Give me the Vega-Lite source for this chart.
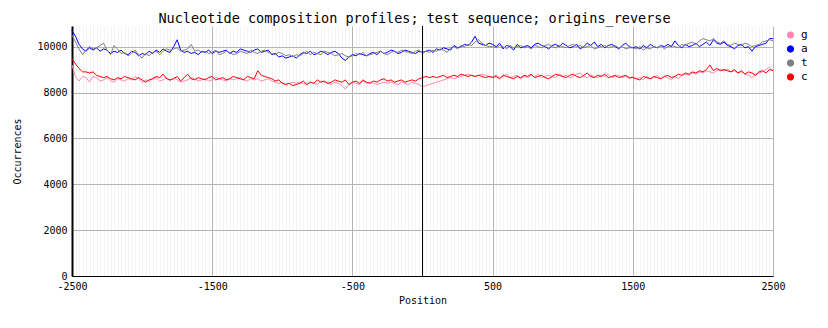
{
"$schema":"https://vega.github.io/schema/vega-lite/v6.json",
"width":701,"height":250,"autosize":"none",
"padding":{"left":72,"top":26,"right":55,"bottom":52},
"background":"white",
"config":{"font":"DejaVu Sans Mono","view":{"stroke":null}},
"title":{"text":"Nucleotide composition profiles; test sequence; origins_reverse","font":"DejaVu Sans Mono","fontSize":13.5,"fontWeight":"normal","color":"black","offset":0,"dx":-8},
"data":{"values":[
{"x":-2500,"g":9200,"a":10700,"t":10500,"c":9450},
{"x":-2475,"g":8700,"a":10450,"t":10200,"c":9250},
{"x":-2450,"g":8500,"a":10100,"t":9900,"c":9050},
{"x":-2425,"g":8700,"a":9900,"t":9650,"c":8900},
{"x":-2400,"g":8650,"a":9800,"t":9850,"c":8900},
{"x":-2375,"g":8450,"a":9950,"t":10000,"c":8850},
{"x":-2350,"g":8700,"a":9850,"t":9900,"c":8900},
{"x":-2325,"g":8650,"a":9950,"t":9950,"c":8750},
{"x":-2300,"g":8500,"a":9800,"t":10050,"c":8700},
{"x":-2275,"g":8550,"a":9900,"t":10150,"c":8650},
{"x":-2250,"g":8650,"a":9850,"t":9850,"c":8700},
{"x":-2225,"g":8500,"a":9700,"t":9650,"c":8600},
{"x":-2200,"g":8450,"a":9800,"t":10050,"c":8550},
{"x":-2175,"g":8600,"a":9750,"t":9900,"c":8650},
{"x":-2150,"g":8550,"a":9850,"t":9700,"c":8600},
{"x":-2125,"g":8500,"a":9700,"t":9750,"c":8700},
{"x":-2100,"g":8600,"a":9650,"t":9600,"c":8650},
{"x":-2075,"g":8550,"a":9800,"t":9700,"c":8600},
{"x":-2050,"g":8700,"a":9750,"t":9850,"c":8550},
{"x":-2025,"g":8600,"a":9600,"t":9650,"c":8650},
{"x":-2000,"g":8450,"a":9700,"t":9500,"c":8550},
{"x":-1975,"g":8550,"a":9650,"t":9700,"c":8450},
{"x":-1950,"g":8500,"a":9800,"t":9600,"c":8550},
{"x":-1925,"g":8600,"a":9700,"t":9750,"c":8600},
{"x":-1900,"g":8650,"a":9850,"t":9800,"c":8700},
{"x":-1875,"g":8500,"a":9750,"t":9650,"c":8650},
{"x":-1850,"g":8550,"a":9900,"t":9800,"c":8800},
{"x":-1825,"g":8650,"a":9800,"t":9900,"c":8600},
{"x":-1800,"g":8500,"a":9750,"t":9850,"c":8550},
{"x":-1775,"g":8650,"a":10000,"t":9900,"c":8600},
{"x":-1750,"g":8550,"a":10300,"t":9950,"c":8700},
{"x":-1725,"g":8450,"a":9850,"t":9800,"c":8500},
{"x":-1700,"g":8500,"a":9750,"t":9850,"c":8650},
{"x":-1675,"g":8550,"a":9800,"t":9900,"c":8800},
{"x":-1650,"g":8650,"a":9700,"t":10100,"c":8600},
{"x":-1625,"g":8600,"a":9750,"t":9800,"c":8550},
{"x":-1600,"g":8500,"a":9650,"t":9850,"c":8650},
{"x":-1575,"g":8550,"a":9800,"t":9750,"c":8600},
{"x":-1550,"g":8600,"a":9750,"t":9800,"c":8550},
{"x":-1525,"g":8500,"a":9850,"t":9700,"c":8650},
{"x":-1500,"g":8550,"a":9700,"t":9750,"c":8700},
{"x":-1475,"g":8650,"a":9800,"t":9850,"c":8550},
{"x":-1450,"g":8600,"a":9750,"t":9650,"c":8600},
{"x":-1425,"g":8550,"a":9800,"t":9700,"c":8650},
{"x":-1400,"g":8500,"a":9850,"t":9800,"c":8550},
{"x":-1375,"g":8600,"a":9700,"t":9750,"c":8600},
{"x":-1350,"g":8550,"a":9800,"t":9650,"c":8700},
{"x":-1325,"g":8600,"a":9750,"t":9700,"c":8650},
{"x":-1300,"g":8650,"a":9900,"t":9800,"c":8600},
{"x":-1275,"g":8550,"a":9850,"t":9750,"c":8550},
{"x":-1250,"g":8500,"a":9800,"t":9700,"c":8700},
{"x":-1225,"g":8600,"a":9750,"t":9850,"c":8650},
{"x":-1200,"g":8550,"a":9850,"t":9750,"c":8600},
{"x":-1175,"g":8600,"a":9900,"t":9700,"c":8950},
{"x":-1150,"g":8500,"a":9750,"t":9800,"c":8750},
{"x":-1125,"g":8550,"a":9800,"t":9850,"c":8700},
{"x":-1100,"g":8600,"a":9850,"t":9750,"c":8650},
{"x":-1075,"g":8500,"a":9650,"t":9700,"c":8600},
{"x":-1050,"g":8450,"a":9700,"t":9650,"c":8500},
{"x":-1025,"g":8400,"a":9550,"t":9750,"c":8550},
{"x":-1000,"g":8450,"a":9600,"t":9700,"c":8400},
{"x":-975,"g":8350,"a":9500,"t":9600,"c":8350},
{"x":-950,"g":8400,"a":9550,"t":9650,"c":8400},
{"x":-925,"g":8450,"a":9600,"t":9550,"c":8300},
{"x":-900,"g":8400,"a":9500,"t":9650,"c":8350},
{"x":-875,"g":8450,"a":9650,"t":9600,"c":8400},
{"x":-850,"g":8400,"a":9750,"t":9700,"c":8500},
{"x":-825,"g":8350,"a":9700,"t":9800,"c":8350},
{"x":-800,"g":8450,"a":9800,"t":9650,"c":8450},
{"x":-775,"g":8400,"a":9650,"t":9750,"c":8400},
{"x":-750,"g":8350,"a":9700,"t":9700,"c":8550},
{"x":-725,"g":8500,"a":9800,"t":9650,"c":8450},
{"x":-700,"g":8450,"a":9750,"t":9800,"c":8500},
{"x":-675,"g":8400,"a":9650,"t":9750,"c":8400},
{"x":-650,"g":8350,"a":9750,"t":9700,"c":8450},
{"x":-625,"g":8450,"a":9800,"t":9600,"c":8550},
{"x":-600,"g":8400,"a":9700,"t":9650,"c":8500},
{"x":-575,"g":8300,"a":9500,"t":9700,"c":8450},
{"x":-550,"g":8150,"a":9400,"t":9600,"c":8550},
{"x":-525,"g":8350,"a":9550,"t":9550,"c":8350},
{"x":-500,"g":8450,"a":9650,"t":9600,"c":8450},
{"x":-475,"g":8400,"a":9600,"t":9700,"c":8500},
{"x":-450,"g":8350,"a":9700,"t":9650,"c":8400},
{"x":-425,"g":8500,"a":9650,"t":9750,"c":8550},
{"x":-400,"g":8400,"a":9600,"t":9600,"c":8450},
{"x":-375,"g":8450,"a":9700,"t":9650,"c":8400},
{"x":-350,"g":8400,"a":9750,"t":9700,"c":8500},
{"x":-325,"g":8350,"a":9650,"t":9750,"c":8450},
{"x":-300,"g":8400,"a":9800,"t":9800,"c":8550},
{"x":-275,"g":8450,"a":9700,"t":9700,"c":8600},
{"x":-250,"g":8400,"a":9750,"t":9650,"c":8500},
{"x":-225,"g":8450,"a":9850,"t":9750,"c":8550},
{"x":-200,"g":8400,"a":9800,"t":9800,"c":8450},
{"x":-175,"g":8350,"a":9700,"t":9750,"c":8500},
{"x":-150,"g":8450,"a":9750,"t":9850,"c":8550},
{"x":-125,"g":8400,"a":9850,"t":9800,"c":8450},
{"x":-100,"g":8350,"a":9800,"t":9750,"c":8500},
{"x":-75,"g":8450,"a":9750,"t":9700,"c":8550},
{"x":-50,"g":8400,"a":9700,"t":9800,"c":8500},
{"x":-25,"g":8350,"a":9800,"t":9850,"c":8600},
{"x":0,"g":8250,"a":9750,"t":9700,"c":8650},
{"x":25,"g":8300,"a":9800,"t":9800,"c":8700},
{"x":50,"g":8350,"a":9850,"t":9750,"c":8650},
{"x":75,"g":8400,"a":9750,"t":9850,"c":8700},
{"x":100,"g":8450,"a":9900,"t":9800,"c":8650},
{"x":125,"g":8500,"a":9850,"t":9900,"c":8700},
{"x":150,"g":8550,"a":9950,"t":9850,"c":8750},
{"x":175,"g":8600,"a":9900,"t":9750,"c":8650},
{"x":200,"g":8650,"a":9850,"t":9950,"c":8700},
{"x":225,"g":8600,"a":10050,"t":10000,"c":8750},
{"x":250,"g":8650,"a":9950,"t":9900,"c":8700},
{"x":275,"g":8700,"a":10000,"t":10050,"c":8800},
{"x":300,"g":8750,"a":10100,"t":10000,"c":8750},
{"x":325,"g":8800,"a":10050,"t":10100,"c":8700},
{"x":350,"g":8750,"a":10200,"t":10050,"c":8750},
{"x":375,"g":8700,"a":10450,"t":10200,"c":8700},
{"x":400,"g":8750,"a":10150,"t":10300,"c":8750},
{"x":425,"g":8800,"a":10100,"t":10150,"c":8700},
{"x":450,"g":8750,"a":10050,"t":10050,"c":8650},
{"x":475,"g":8700,"a":10150,"t":10000,"c":8700},
{"x":500,"g":8700,"a":10100,"t":10000,"c":8650},
{"x":525,"g":8750,"a":10000,"t":9950,"c":8700},
{"x":550,"g":8650,"a":10150,"t":10050,"c":8600},
{"x":575,"g":8700,"a":9900,"t":10000,"c":8750},
{"x":600,"g":8800,"a":10050,"t":9900,"c":8700},
{"x":625,"g":8650,"a":10000,"t":10050,"c":8650},
{"x":650,"g":8700,"a":9850,"t":9950,"c":8600},
{"x":675,"g":8750,"a":10100,"t":10000,"c":8700},
{"x":700,"g":8600,"a":9950,"t":10050,"c":8650},
{"x":725,"g":8700,"a":10000,"t":9950,"c":8750},
{"x":750,"g":8650,"a":10050,"t":10000,"c":8700},
{"x":775,"g":8750,"a":9950,"t":9900,"c":8800},
{"x":800,"g":8700,"a":10100,"t":10050,"c":8650},
{"x":825,"g":8800,"a":10150,"t":10000,"c":8700},
{"x":850,"g":8650,"a":10050,"t":9950,"c":8750},
{"x":875,"g":8700,"a":10000,"t":10050,"c":8650},
{"x":900,"g":8750,"a":9900,"t":10100,"c":8600},
{"x":925,"g":8700,"a":10050,"t":10000,"c":8700},
{"x":950,"g":8650,"a":10100,"t":9950,"c":8800},
{"x":975,"g":8800,"a":10000,"t":10050,"c":8750},
{"x":1000,"g":8700,"a":10150,"t":10000,"c":8700},
{"x":1025,"g":8750,"a":10050,"t":9950,"c":8650},
{"x":1050,"g":8650,"a":9950,"t":10050,"c":8750},
{"x":1075,"g":8700,"a":10000,"t":10100,"c":8800},
{"x":1100,"g":8800,"a":10100,"t":10000,"c":8700},
{"x":1125,"g":8850,"a":9900,"t":10050,"c":8650},
{"x":1150,"g":8700,"a":10000,"t":9950,"c":8750},
{"x":1175,"g":8650,"a":10150,"t":10000,"c":8850},
{"x":1200,"g":8750,"a":10050,"t":10050,"c":8700},
{"x":1225,"g":8700,"a":10200,"t":9900,"c":8650},
{"x":1250,"g":8650,"a":10000,"t":9950,"c":8750},
{"x":1275,"g":8750,"a":10100,"t":10000,"c":8700},
{"x":1300,"g":8700,"a":9950,"t":10050,"c":8800},
{"x":1325,"g":8800,"a":10050,"t":9950,"c":8650},
{"x":1350,"g":8650,"a":10100,"t":10000,"c":8700},
{"x":1375,"g":8700,"a":10000,"t":10050,"c":8750},
{"x":1400,"g":8750,"a":9900,"t":9950,"c":8650},
{"x":1425,"g":8650,"a":10050,"t":10000,"c":8700},
{"x":1450,"g":8700,"a":10150,"t":9900,"c":8750},
{"x":1475,"g":8600,"a":10000,"t":9950,"c":8650},
{"x":1500,"g":8700,"a":9950,"t":9950,"c":8650},
{"x":1525,"g":8600,"a":10000,"t":9900,"c":8600},
{"x":1550,"g":8650,"a":9900,"t":10000,"c":8550},
{"x":1575,"g":8550,"a":10050,"t":9850,"c":8700},
{"x":1600,"g":8700,"a":9950,"t":9950,"c":8650},
{"x":1625,"g":8600,"a":10100,"t":9900,"c":8600},
{"x":1650,"g":8650,"a":10000,"t":10000,"c":8700},
{"x":1675,"g":8750,"a":9950,"t":9950,"c":8650},
{"x":1700,"g":8600,"a":10050,"t":10050,"c":8600},
{"x":1725,"g":8700,"a":10000,"t":9900,"c":8700},
{"x":1750,"g":8650,"a":10100,"t":10000,"c":8750},
{"x":1775,"g":8550,"a":10000,"t":10050,"c":8650},
{"x":1800,"g":8700,"a":10250,"t":10000,"c":8700},
{"x":1825,"g":8600,"a":10050,"t":9950,"c":8800},
{"x":1850,"g":8750,"a":9950,"t":10100,"c":8750},
{"x":1875,"g":8800,"a":10100,"t":10050,"c":8850},
{"x":1900,"g":8750,"a":10000,"t":10150,"c":8800},
{"x":1925,"g":8850,"a":10050,"t":10200,"c":8900},
{"x":1950,"g":8800,"a":10150,"t":10100,"c":8850},
{"x":1975,"g":8900,"a":10000,"t":10250,"c":8950},
{"x":2000,"g":8850,"a":10100,"t":10350,"c":8900},
{"x":2025,"g":8950,"a":10200,"t":10300,"c":9000},
{"x":2050,"g":8900,"a":10050,"t":10250,"c":9200},
{"x":2075,"g":8850,"a":10300,"t":10350,"c":8950},
{"x":2100,"g":8950,"a":10150,"t":10200,"c":9050},
{"x":2125,"g":9000,"a":10100,"t":10150,"c":8950},
{"x":2150,"g":8950,"a":10200,"t":10250,"c":9000},
{"x":2175,"g":9000,"a":10050,"t":10100,"c":8950},
{"x":2200,"g":8900,"a":10000,"t":10050,"c":8900},
{"x":2225,"g":8950,"a":9900,"t":10150,"c":9000},
{"x":2250,"g":8850,"a":10050,"t":10100,"c":8850},
{"x":2275,"g":8900,"a":10100,"t":10050,"c":8950},
{"x":2300,"g":8800,"a":9950,"t":10150,"c":8800},
{"x":2325,"g":8750,"a":10000,"t":10100,"c":8900},
{"x":2350,"g":8650,"a":9800,"t":10000,"c":8850},
{"x":2375,"g":8800,"a":10000,"t":10050,"c":8750},
{"x":2400,"g":8850,"a":10050,"t":10100,"c":8900},
{"x":2425,"g":8900,"a":10100,"t":10200,"c":8950},
{"x":2450,"g":9000,"a":10150,"t":10250,"c":8850},
{"x":2475,"g":9100,"a":10350,"t":10300,"c":9000},
{"x":2500,"g":8950,"a":10350,"t":10250,"c":8950}
]},
"layer":[
{"transform":[{"fold":["g","a","t","c"],"as":["series","value"]}],
 "mark":{"type":"line","strokeWidth":1},
 "encoding":{
  "x":{"field":"x","type":"quantitative","scale":{"domain":[-2500,2500],"nice":false,"zero":false},
   "axis":{"values":[-2500,-2475,-2450,-2425,-2400,-2375,-2350,-2325,-2300,-2275,-2250,-2225,-2200,-2175,-2150,-2125,-2100,-2075,-2050,-2025,-2000,-1975,-1950,-1925,-1900,-1875,-1850,-1825,-1800,-1775,-1750,-1725,-1700,-1675,-1650,-1625,-1600,-1575,-1550,-1525,-1500,-1475,-1450,-1425,-1400,-1375,-1350,-1325,-1300,-1275,-1250,-1225,-1200,-1175,-1150,-1125,-1100,-1075,-1050,-1025,-1000,-975,-950,-925,-900,-875,-850,-825,-800,-775,-750,-725,-700,-675,-650,-625,-600,-575,-550,-525,-500,-475,-450,-425,-400,-375,-350,-325,-300,-275,-250,-225,-200,-175,-150,-125,-100,-75,-50,-25,0,25,50,75,100,125,150,175,200,225,250,275,300,325,350,375,400,425,450,475,500,525,550,575,600,625,650,675,700,725,750,775,800,825,850,875,900,925,950,975,1000,1025,1050,1075,1100,1125,1150,1175,1200,1225,1250,1275,1300,1325,1350,1375,1400,1425,1450,1475,1500,1525,1550,1575,1600,1625,1650,1675,1700,1725,1750,1775,1800,1825,1850,1875,1900,1925,1950,1975,2000,2025,2050,2075,2100,2125,2150,2175,2200,2225,2250,2275,2300,2325,2350,2375,2400,2425,2450,2475,2500],
    "tickCount":1000,
    "grid":true,
    "gridColor":{"condition":{"test":"abs(datum.value) % 1000 == 500","value":"#b4b4b4"},"value":"#f3f3f3"},
    "ticks":false,"domainColor":"black","domainWidth":1,
    "labelExpr":"abs(datum.value) % 1000 == 500 ? '' + datum.value : ''",
    "labelFont":"DejaVu Sans Mono","labelFontSize":10,"labelColor":"black","labelPadding":5,"labelOverlap":false,"labelFlush":false,
    "title":"Position","titleFont":"DejaVu Sans Mono","titleFontSize":10,"titleFontWeight":"normal","titleColor":"black","titlePadding":4}},
  "y":{"field":"value","type":"quantitative","scale":{"domain":[0,10900],"nice":false},
   "axis":{"values":[0,2000,4000,6000,8000,10000],"grid":true,"gridColor":"#b4b4b4","ticks":false,"domainColor":"black","domainWidth":2,
    "format":"d","labelFont":"DejaVu Sans Mono","labelFontSize":10,"labelColor":"black","labelPadding":5,
    "title":"Occurrences","titleFont":"DejaVu Sans Mono","titleFontSize":10,"titleFontWeight":"normal","titleColor":"black","titlePadding":14}},
  "color":{"field":"series","type":"nominal","scale":{"domain":["g","a","t","c"],"range":["#ff88bb","#0000ff","#808080","#ff0000"]},
   "legend":{"orient":"none","legendX":713,"legendY":3,"title":null,"symbolType":"circle","symbolSize":40,"symbolStrokeWidth":1,
    "labelFont":"DejaVu Sans Mono","labelFontSize":11,"labelColor":"black","labelOffset":5,"rowPadding":2,"clipHeight":12,
    "encode":{"symbols":{"update":{"fill":{"scale":"color","field":"value"},"fillOpacity":{"value":1}}}}}}
 }},
{"data":{"values":[{}]},"mark":{"type":"rule","color":"black","strokeWidth":1},"encoding":{"x":{"datum":0}}}
]
}
